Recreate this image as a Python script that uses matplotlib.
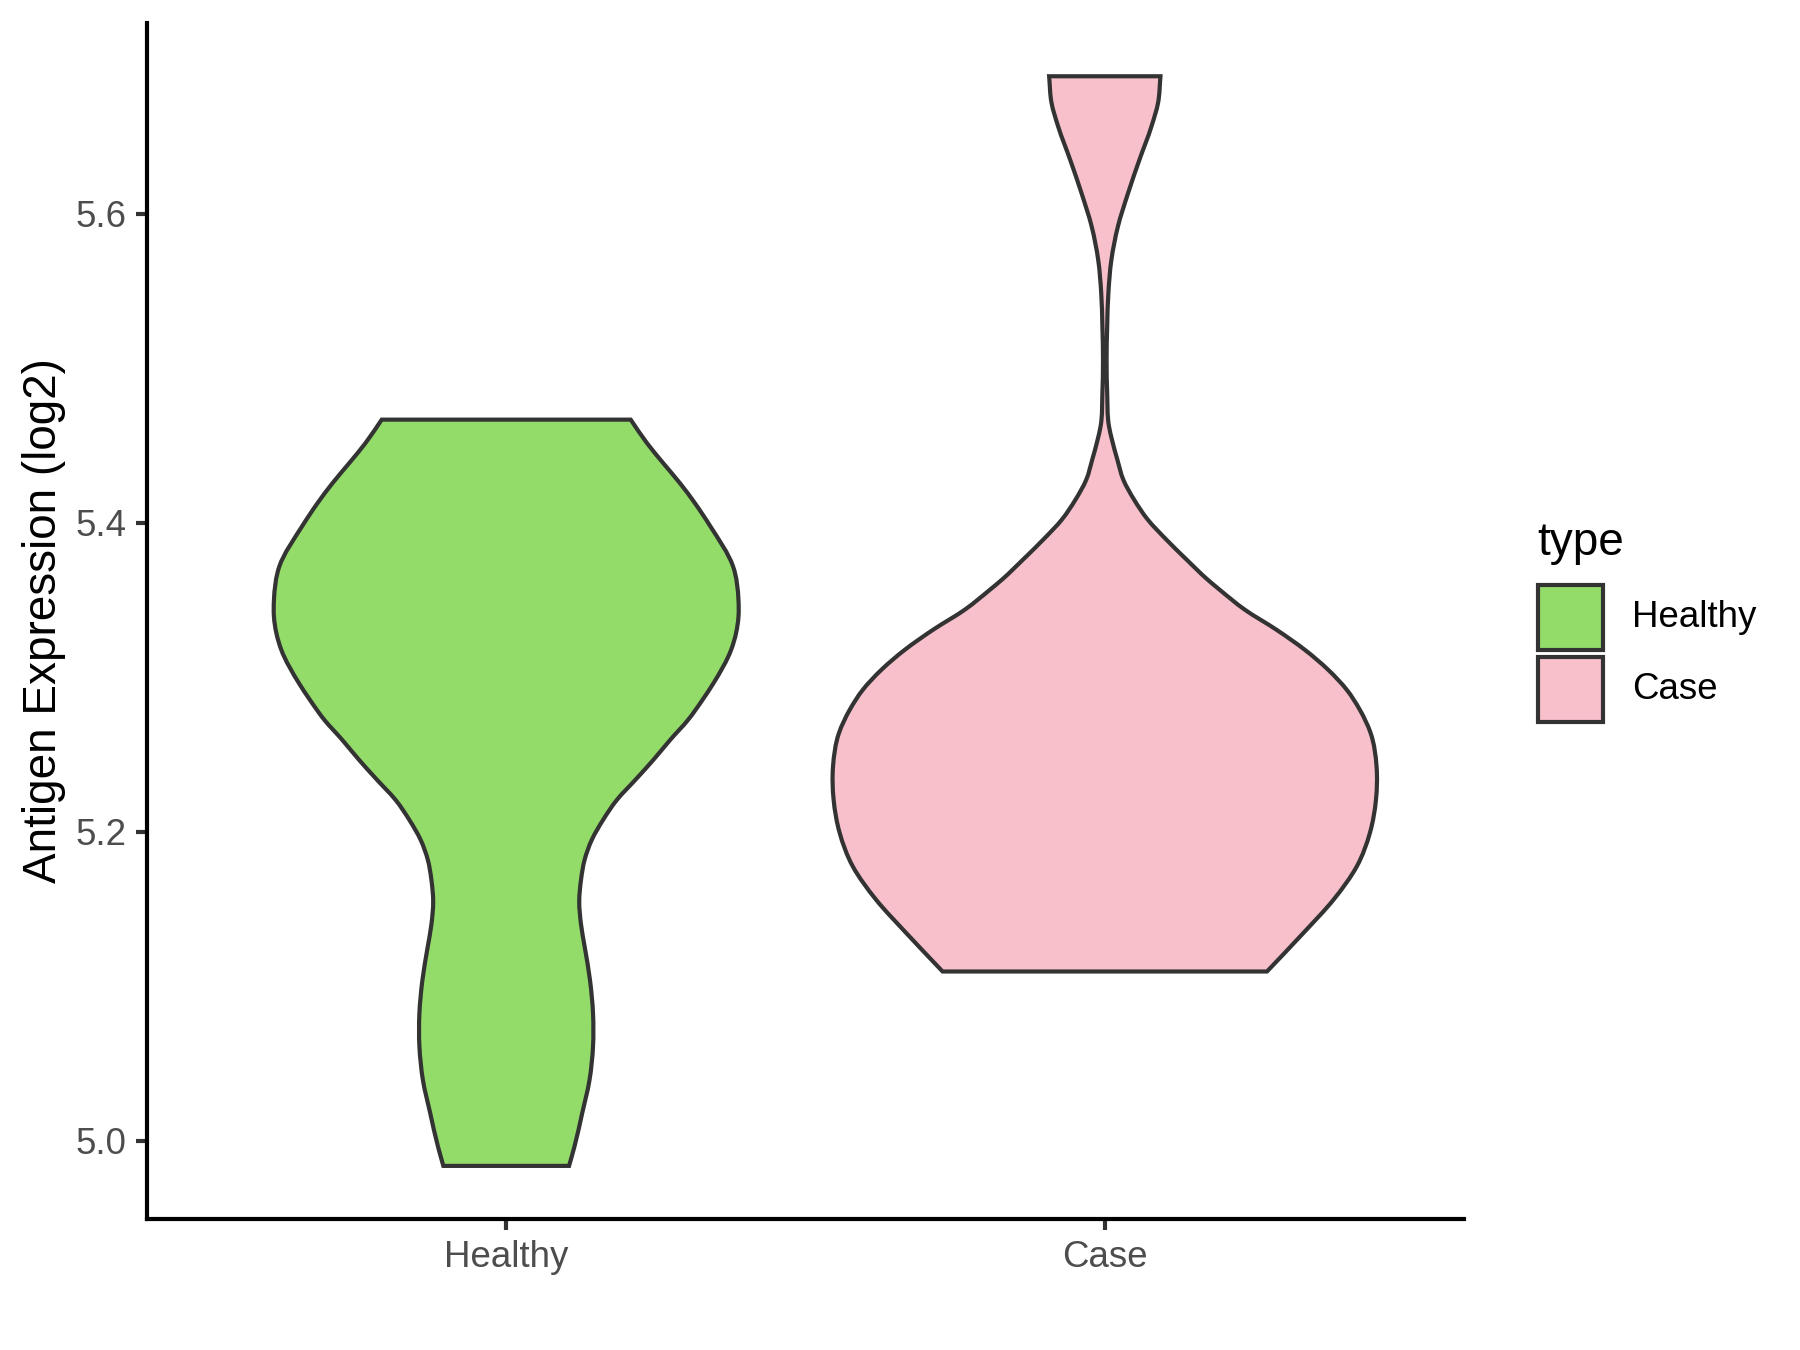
import matplotlib
matplotlib.use("Agg")
import matplotlib.pyplot as plt
from matplotlib.patches import PathPatch, Rectangle
from matplotlib.path import Path
import numpy as np

plt.rcParams['font.family'] = ['Liberation Sans', 'DejaVu Sans']

categories = ["Healthy", "Case"]
colors = {"Healthy": "#94DC6A", "Case": "#F7C0CB"}

# violin outline profiles: y values and half widths (x units)
healthy_y = [5.4667, 5.4516, 5.4387, 5.4257, 5.4128, 5.3977, 5.3717, 5.350, 5.339,
             5.318, 5.296, 5.2854, 5.2725, 5.2595, 5.2466, 5.2337, 5.2207, 5.2078,
             5.1948, 5.1819, 5.169, 5.1550, 5.1400, 5.1258, 5.104, 5.0826, 5.061,
             5.039, 5.018, 4.9963, 4.9838]
healthy_w = [0.208, 0.235, 0.262, 0.290, 0.315, 0.341, 0.379, 0.388, 0.388,
             0.376, 0.346, 0.328, 0.304, 0.274, 0.246, 0.216, 0.185, 0.162,
             0.143, 0.131, 0.125, 0.122, 0.125, 0.131, 0.140, 0.145, 0.145,
             0.139, 0.127, 0.114, 0.105]

case_y = [5.6889, 5.6717, 5.6565, 5.635, 5.6134, 5.5918, 5.570, 5.5487, 5.527,
          5.505, 5.484, 5.4624, 5.4537, 5.4408, 5.4278, 5.4149, 5.4019, 5.3890,
          5.376, 5.3631, 5.3566, 5.3437, 5.3307, 5.3178, 5.3049, 5.292, 5.279,
          5.264, 5.2423, 5.2207, 5.1994, 5.1776, 5.156, 5.1346, 5.1096]
case_w = [0.093, 0.089, 0.078, 0.058, 0.039, 0.022, 0.011, 0.006, 0.004,
          0.003, 0.004, 0.007, 0.012, 0.021, 0.031, 0.049, 0.072, 0.103,
          0.137, 0.172, 0.192, 0.234, 0.287, 0.334, 0.373, 0.404, 0.426,
          0.444, 0.454, 0.453, 0.443, 0.421, 0.382, 0.332, 0.271]

profiles = {"Healthy": (healthy_y, healthy_w), "Case": (case_y, case_w)}

yticks = [5.0, 5.2, 5.4, 5.6]


def hermite_segments(xs, ys):
    """Smooth curve x(y) through the read points, as cubic Bezier pieces."""
    xs = np.asarray(xs, dtype=float)
    ys = np.asarray(ys, dtype=float)
    n = len(xs)
    h = np.diff(ys)
    d = np.diff(xs) / h
    m = np.empty(n)
    m[0] = d[0]
    m[-1] = d[-1]
    for i in range(1, n - 1):
        m[i] = (d[i - 1] * h[i] + d[i] * h[i - 1]) / (h[i - 1] + h[i])
    verts, codes = [], []
    for i in range(n - 1):
        hh = h[i]
        c1 = (xs[i] + m[i] * hh / 3.0, ys[i] + hh / 3.0)
        c2 = (xs[i + 1] - m[i + 1] * hh / 3.0, ys[i + 1] - hh / 3.0)
        verts += [c1, c2, (xs[i + 1], ys[i + 1])]
        codes += [Path.CURVE4] * 3
    return verts, codes


fig = plt.figure(figsize=(6, 4.5), dpi=300)
ax = fig.add_axes([0.0817, 0.097, 0.8133 - 0.0817, 0.983 - 0.097])

for i, cat in enumerate(categories):
    pos = i + 1
    y, w = profiles[cat]
    y = np.asarray(y); w = np.asarray(w)
    verts = [(pos + w[0], y[0])]
    codes = [Path.MOVETO]
    v, c = hermite_segments(pos + w, y)
    verts += v; codes += c
    verts.append((pos - w[-1], y[-1])); codes.append(Path.LINETO)
    v, c = hermite_segments((pos - w)[::-1], y[::-1])
    verts += v; codes += c
    verts.append((pos + w[0], y[0])); codes.append(Path.CLOSEPOLY)
    patch = PathPatch(Path(verts, codes), facecolor=colors[cat],
                      edgecolor="#333333", linewidth=1.0, joinstyle="miter",
                      zorder=2)
    ax.add_patch(patch)

ax.set_xlim(0.4, 2.6)
ax.set_ylim(4.9494, 5.7234)
ax.set_xticks([1, 2])
ax.set_xticklabels(categories)
ax.set_yticks(yticks)
ax.set_yticklabels([f"{t:.1f}" for t in yticks])
ax.set_ylabel("Antigen Expression (log2)", fontsize=11, color="black", labelpad=2.2)

for s in ["top", "right"]:
    ax.spines[s].set_visible(False)
for s in ["left", "bottom"]:
    ax.spines[s].set_linewidth(1.0)
    ax.spines[s].set_color("black")
ax.tick_params(axis="both", direction="out", length=2.75, width=1.0,
               color="#333333", labelsize=8.8, labelcolor="#4D4D4D", pad=2.2)

# legend drawn by hand to match ggplot's layout
W, H = 1800.0, 1350.0
key_left = 1538.0
key_size = 65.0
key_tops = [585.0, 657.0]
for cat, top in zip(categories, key_tops):
    fig.add_artist(Rectangle((key_left / W, 1 - (top + key_size) / H),
                             key_size / W, key_size / H,
                             transform=fig.transFigure, facecolor=colors[cat],
                             edgecolor="#333333", linewidth=1.0))
    fig.text(1632.0 / W, 1 - (top + key_size / 2) / H, cat, fontsize=8.8,
             color="black", va="center", ha="left")
fig.text(1537.0 / W, 1 - 555.0 / H, "type", fontsize=11, color="black",
         va="baseline", ha="left")

fig.savefig("out.png", dpi=300)
